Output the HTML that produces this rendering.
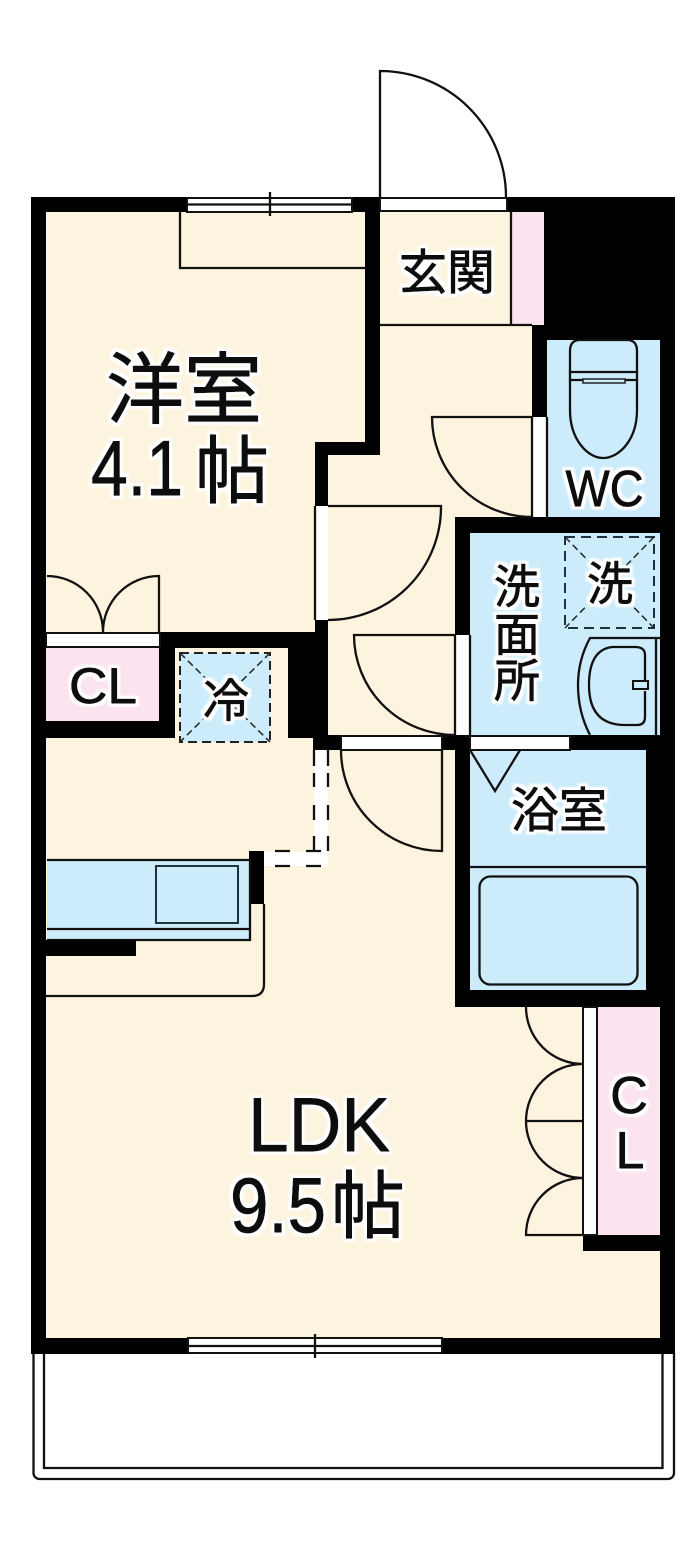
<!DOCTYPE html>
<html><head><meta charset="utf-8"><style>
html,body{margin:0;padding:0;background:#fff}
svg{display:block}
.l{fill:none;stroke:#111;stroke-width:2.300}
text{font-family:"Liberation Sans","Noto Sans CJK JP",sans-serif;fill:#0a0a0a;text-anchor:middle}
.h{stroke:#0a0a0a;stroke-width:.9;stroke-linejoin:round;filter:url(#halo)}
.d{fill:none;stroke:#222;stroke-width:2;stroke-dasharray:12 7}
.x{fill:none;stroke:#222;stroke-width:1.5;stroke-dasharray:7 4}
.w{fill:#fff;stroke:#111;stroke-width:2}
</style></head><body>
<svg width="700" height="1545" viewBox="0 0 700 1545" xmlns="http://www.w3.org/2000/svg">
<defs>
<filter id="halo" x="-25%" y="-25%" width="150%" height="150%">
<feMorphology in="SourceAlpha" operator="dilate" radius="3" result="m"/>
<feGaussianBlur in="m" stdDeviation="0.7" result="b"/>
<feFlood flood-color="#fff" result="f"/>
<feComposite in="f" in2="b" operator="in" result="c"/>
<feMerge><feMergeNode in="c"/><feMergeNode in="SourceGraphic"/></feMerge>
</filter>
</defs>
<rect width="700" height="1545" fill="#fff"/>
<!-- balcony -->
<path class="l" d="M33.500 1353V1473a6 6 0 0 0 6 6H668a6 6 0 0 0 6-6V1353"/>
<path class="l" d="M44 1353V1468H662.500V1353"/>
<!-- walls -->
<rect x="31" y="197" width="644" height="1157" fill="#000"/>
<!-- floors -->
<g fill="#fdf4e0">
<polygon points="46,212 365,212 365,442 315,442 315,632 46,632"/>
<polygon points="380,212 532,212 532,517 455,517 455,735 328,735 328,455 380,455"/>
<polygon points="46,738 175,738 175,648 288,648 288,738 313,738 313,750 455,750 455,1007 660,1007 660,1338 46,1338"/>
</g>
<!-- wall stub lower right -->
<rect x="583" y="1235" width="77" height="16" fill="#000"/>
<!-- pink -->
<g fill="#fbe3ef">
<rect x="512" y="212" width="32" height="113"/>
<rect x="46" y="648" width="113" height="73"/>
<rect x="597" y="1007" width="63" height="228"/>
</g>
<!-- blue rooms -->
<g fill="#cdecfb">
<rect x="547" y="340" width="113" height="177"/>
<rect x="470" y="533" width="190" height="202"/>
<rect x="470" y="750" width="176" height="240"/>
<rect x="180" y="653" width="90" height="89"/>
<rect x="47" y="860" width="203" height="80"/>
</g>
<!-- top window -->
<rect x="187" y="198" width="165" height="14" class="w"/>
<path class="l" d="M187 204.500H352"/>
<path class="l" d="M270 192V216"/>
<path class="l" d="M180 212V268H365" stroke-width="1.500"/>
<!-- entry door -->
<rect x="380" y="198" width="127" height="13" class="w"/>
<path class="l" d="M380 197V71A126 126 0 0 1 506 197"/>
<path class="l" d="M380 325H532M511 212V325"/>
<text x="447" y="289" font-size="48" class="h">玄関</text>
<!-- toilet door -->
<rect x="532" y="417" width="15" height="100" fill="#fff"/>
<path class="l" d="M532 417V517M547 417V517"/>
<path class="l" d="M532 417H432A100 100 0 0 0 532 517"/>
<!-- toilet -->
<path class="l" d="M580 340H627Q637 340 637 351V372H570V351Q570 340 580 340Z"/>
<path class="l" d="M570 372L570 380L583 380M637 372V380H625"/>
<rect x="583" y="379" width="42" height="4" fill="#cdecfb" stroke="#222" stroke-width="1.500"/>
<path class="l" d="M570 380V410C570 440 588 458 603 458C619 458 637 440 637 410V380"/>
<text x="604.500" y="506" font-size="51" textLength="78" lengthAdjust="spacingAndGlyphs" class="h">WC</text>
<!-- bedroom door -->
<rect x="315" y="506" width="13" height="114" fill="#fff"/>
<path class="l" d="M315 506V620"/>
<path class="l" d="M328 506H441A113 113 0 0 1 328 620"/>
<!-- CL1 door -->
<rect x="46" y="633" width="114" height="14" class="w" stroke-width="1"/>
<path class="l" d="M47 576A56 56 0 0 1 103 632M159 632V576A56 56 0 0 0 103 632"/>
<text x="103" y="703" font-size="50" textLength="68" lengthAdjust="spacingAndGlyphs" class="h">CL</text>
<!-- fridge -->
<rect x="180" y="653" width="90" height="89" class="d" style="stroke-dasharray:9 5"/>
<path class="x" d="M180 653L270 742M270 653L180 742"/>
<text x="226" y="717" font-size="46" class="h">冷</text>
<!-- wash door -->
<rect x="455" y="635" width="15" height="100" fill="#fff"/>
<path class="l" d="M455 635V735M470 635V735"/>
<path class="l" d="M455 635H354A101 100 0 0 0 455 735"/>
<!-- washroom -->
<rect x="565" y="537" width="89" height="91" class="d" style="stroke-dasharray:10 6;stroke:#1d3140"/>
<path class="x" d="M565 537L654 628M654 537L565 628"/>
<text x="610" y="600" font-size="46" class="h">洗</text>
<g font-size="46">
<text x="517" y="603" class="h">洗</text>
<text x="517" y="651" class="h">面</text>
<text x="517" y="697" class="h">所</text>
</g>
<path class="l" d="M660 638H590Q578 660 578 685Q578 712 590 735M656 638V735"/>
<path class="l" d="M645 687V655Q645 647 635 647H612Q589 650 589 685Q589 725 625 725H637Q645 725 645 717V691"/>
<rect x="633" y="681" width="15" height="8" fill="#cdecfb" stroke="#111" stroke-width="2"/>
<!-- door LDK -->
<rect x="341" y="736" width="101" height="14" class="w"/>
<path class="l" d="M442 750V851A101 101 0 0 1 341 750"/>
<!-- bath door -->
<rect x="470" y="736" width="100" height="14" class="w" stroke-width="1"/>
<path class="l" d="M470 750L495 791L520 750"/>
<text x="559" y="827" font-size="48" class="h">浴室</text>
<path class="l" d="M470 867H646"/>
<rect x="479.500" y="876.500" width="158" height="108" rx="11" class="l"/>
<!-- dashed opening -->
<rect x="314" y="750" width="14" height="116" fill="#fff"/>
<rect x="264" y="852" width="64" height="14" fill="#fff"/>
<path class="l" d="M314 750V766M328 750V766M314 773V787M328 773V787M314 805V820M328 805V820M314 836V851M328 836V851M275 851H290M306 851H321M275 866H290M306 866H321"/>
<!-- kitchen -->
<rect x="249" y="851" width="15" height="53" fill="#000"/>
<path class="l" d="M47 860H250V940H47M47 929H250"/>
<rect x="156" y="866" width="82" height="57" fill="#cdecfb" stroke="#1d3140" stroke-width="2"/>
<rect x="46" y="940" width="90" height="16" fill="#000"/>
<path class="l" d="M264 904V984Q264 996 252 996H46"/>
<!-- CL right doors -->
<rect x="583" y="1007" width="14" height="228" class="w"/>
<path class="l" d="M526 1007A57 57 0 0 0 583 1064A57 57 0 0 0 526 1121A57 57 0 0 0 583 1178A57 57 0 0 0 526 1235H583M526 1121H583"/>
<text x="629" y="1113" font-size="52" class="h">C</text>
<text x="630" y="1168" font-size="52" class="h">L</text>
<!-- bottom window -->
<rect x="188" y="1338" width="254" height="15" class="w"/>
<path class="l" d="M188 1346H442M315 1334V1358"/>
<!-- big labels -->
<text x="184" y="417" font-size="78" class="h">洋室</text>
<text x="137" y="495" font-size="78" textLength="92" lengthAdjust="spacingAndGlyphs" class="h">4.1</text>
<text x="232" y="497" font-size="74" class="h">帖</text>
<text x="319" y="1151" font-size="76" textLength="142" lengthAdjust="spacingAndGlyphs" class="h">LDK</text>
<text x="278" y="1232" font-size="78" textLength="96" lengthAdjust="spacingAndGlyphs" class="h">9.5</text>
<text x="368" y="1232" font-size="74" class="h">帖</text>
</svg>
</body></html>
